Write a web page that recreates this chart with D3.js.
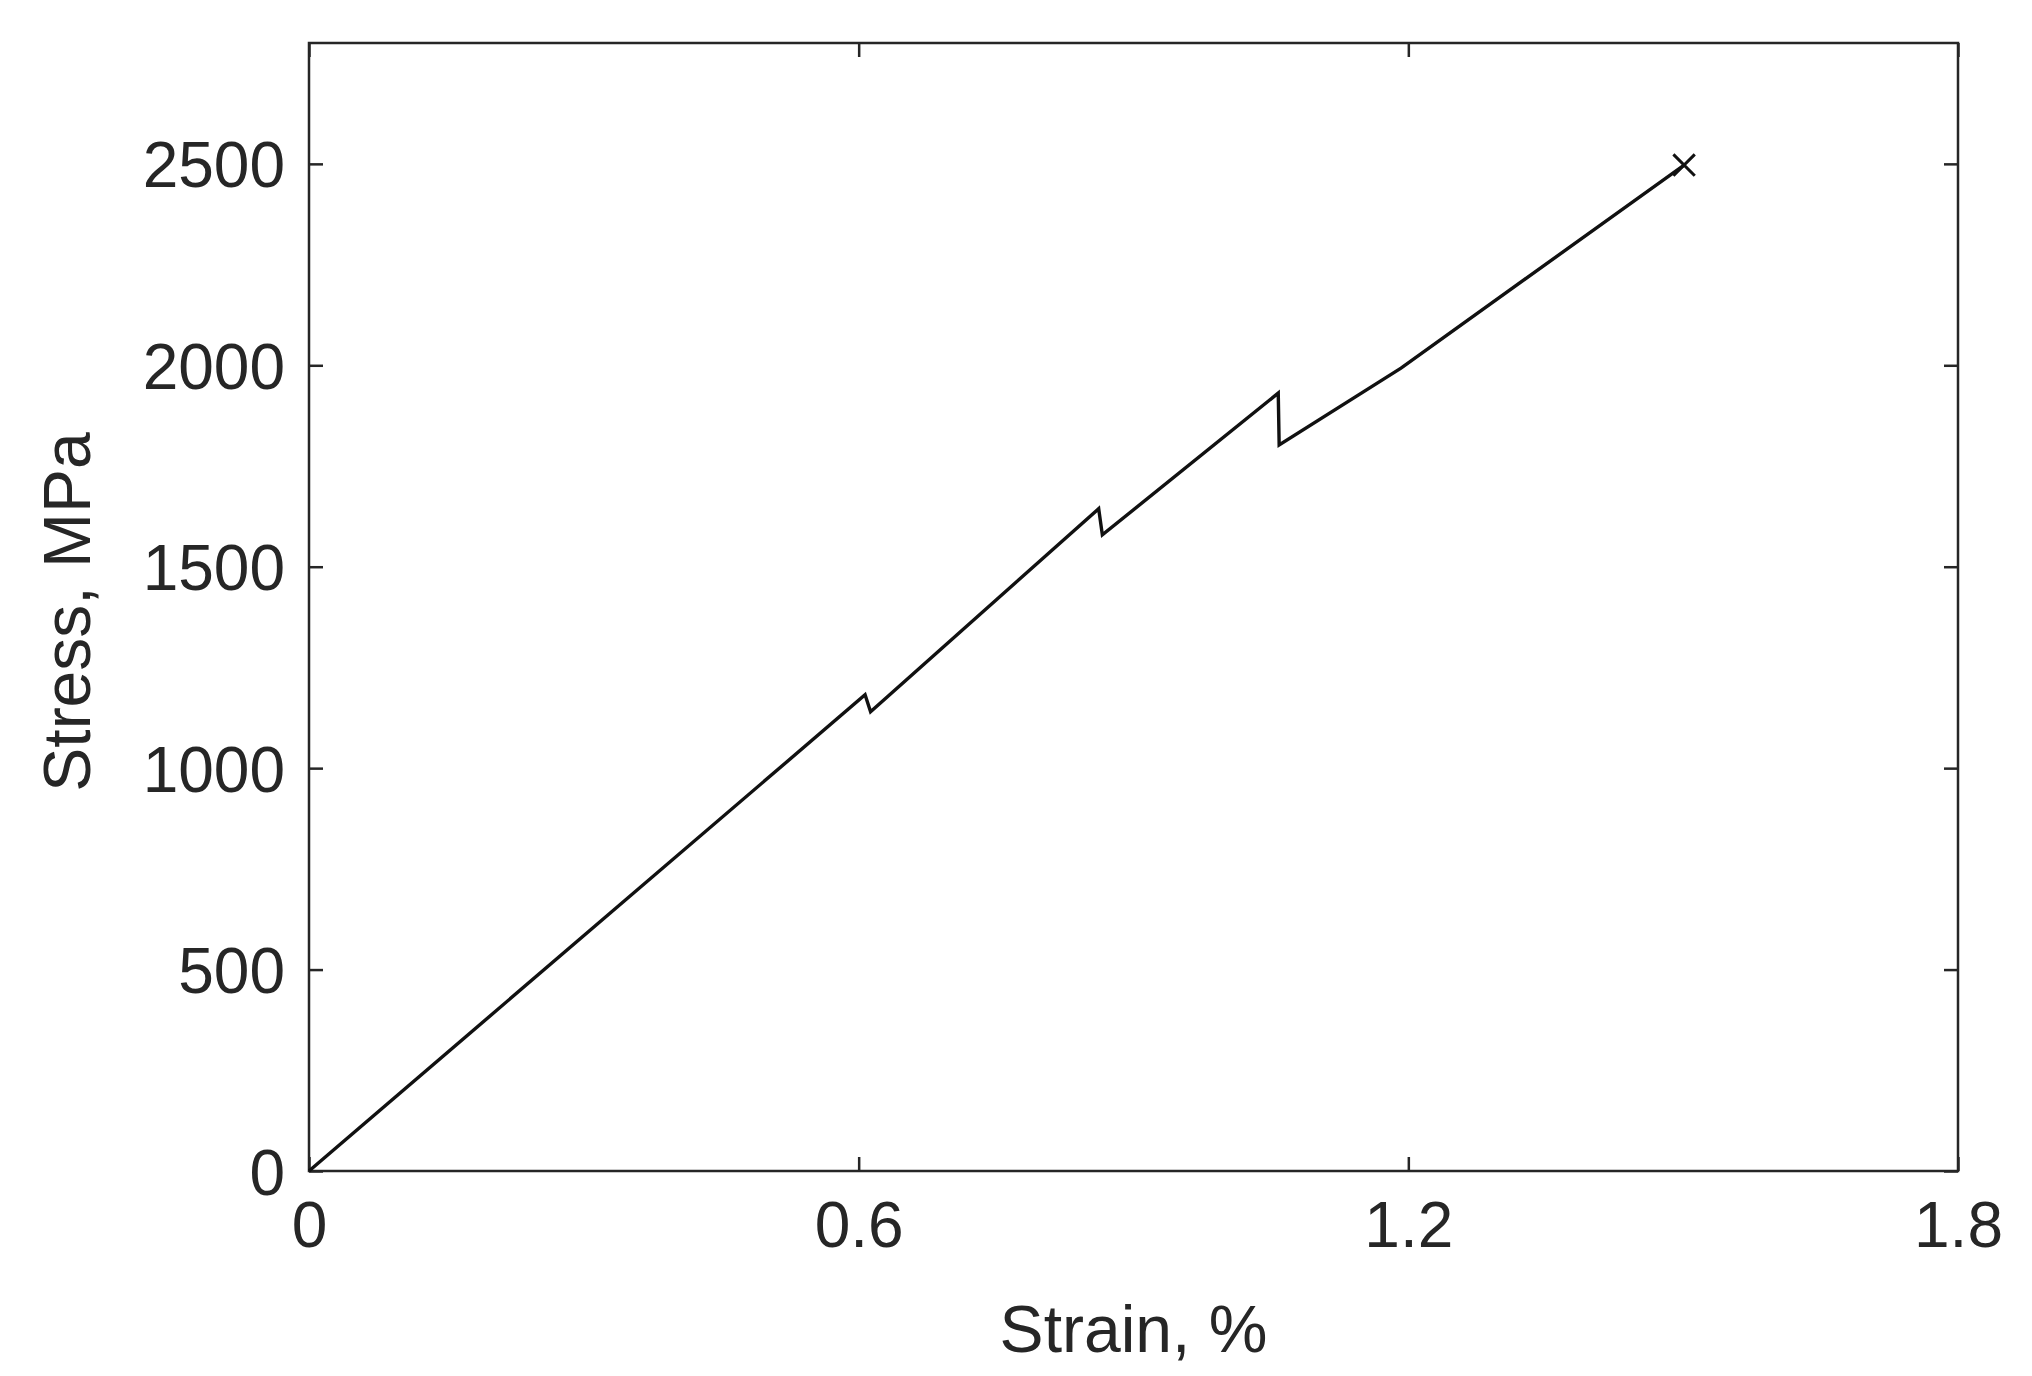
<!DOCTYPE html>
<html><head><meta charset="utf-8">
<script src="https://cdn.jsdelivr.net/npm/d3@7"></script>
<style>body{margin:0;background:#fff}</style></head>
<body><svg id="c" width="2032" height="1376"></svg>
<script>
const strain = [0, 0.607, 0.613, 0.862, 0.866, 1.058, 1.059, 1.192, 1.501];
const stress = [0, 1182, 1140, 1644, 1579, 1931, 1802, 1993, 2497];
const xTicks = [0, 0.6, 1.2, 1.8];
const yTicks = [0, 500, 1000, 1500, 2000, 2500];

const svg = d3.select("#c");
const L=309, R=1958, T=43, B=1171;
const x = d3.scaleLinear().domain([0,1.8]).range([L,R]);
const y = d3.scaleLinear().domain([0,2800]).range([B,T]);
const col="#262626", font="Liberation Sans, Arial, sans-serif";

svg.append("rect").attr("x",L).attr("y",T).attr("width",R-L).attr("height",B-T)
  .attr("fill","none").attr("stroke",col).attr("stroke-width",2.5);

const fmtX = d=> d===0?"0":d.toFixed(1);
const gx = svg.append("g").attr("transform",`translate(0,${B})`)
  .call(d3.axisBottom(x).tickValues(xTicks).tickFormat(fmtX).tickSizeInner(-14).tickSizeOuter(0).tickPadding(28));
const gxt = svg.append("g").attr("transform",`translate(0,${T})`)
  .call(d3.axisTop(x).tickValues(xTicks).tickFormat("").tickSizeInner(-14).tickSizeOuter(0));
const gy = svg.append("g").attr("transform",`translate(${L},0)`)
  .call(d3.axisLeft(y).tickValues(yTicks).tickFormat(d3.format("d")).tickSizeInner(-14).tickSizeOuter(0).tickPadding(24));
const gyr = svg.append("g").attr("transform",`translate(${R},0)`)
  .call(d3.axisRight(y).tickValues(yTicks).tickFormat("").tickSizeInner(-14).tickSizeOuter(0));
[gx,gxt,gy,gyr].forEach(g=>{
  g.select(".domain").remove();
  g.selectAll("line").attr("stroke",col).attr("stroke-width",2.5);
  g.selectAll("text").attr("fill",col).style("font-family",font).style("font-size","64px");
});
gx.selectAll("text").attr("dy","0.75em");
gy.selectAll("text").attr("dy","0.36em");

const pts = strain.map((s,i)=>[s,stress[i]]);
svg.append("path").datum(pts)
  .attr("d", d3.line().x(d=>x(d[0])).y(d=>y(d[1])))
  .attr("fill","none").attr("stroke","#111").attr("stroke-width",3.4).attr("stroke-linejoin","miter");

const last = pts[pts.length-1];
svg.append("path").attr("d",d3.symbol(d3.symbolTimes,300)())
  .attr("transform",`translate(${x(last[0])},${y(last[1])})`)
  .attr("fill","none").attr("stroke","#111").attr("stroke-width",3);

svg.append("text").attr("x",(L+R)/2).attr("y",1352).attr("text-anchor","middle")
  .attr("fill",col).style("font-family",font).style("font-size","66px").text("Strain, %");
svg.append("text").attr("transform",`translate(90,${(T+B)/2+5}) rotate(-90)`).attr("text-anchor","middle")
  .attr("fill",col).style("font-family",font).style("font-size","66px").text("Stress, MPa");
</script></body></html>
